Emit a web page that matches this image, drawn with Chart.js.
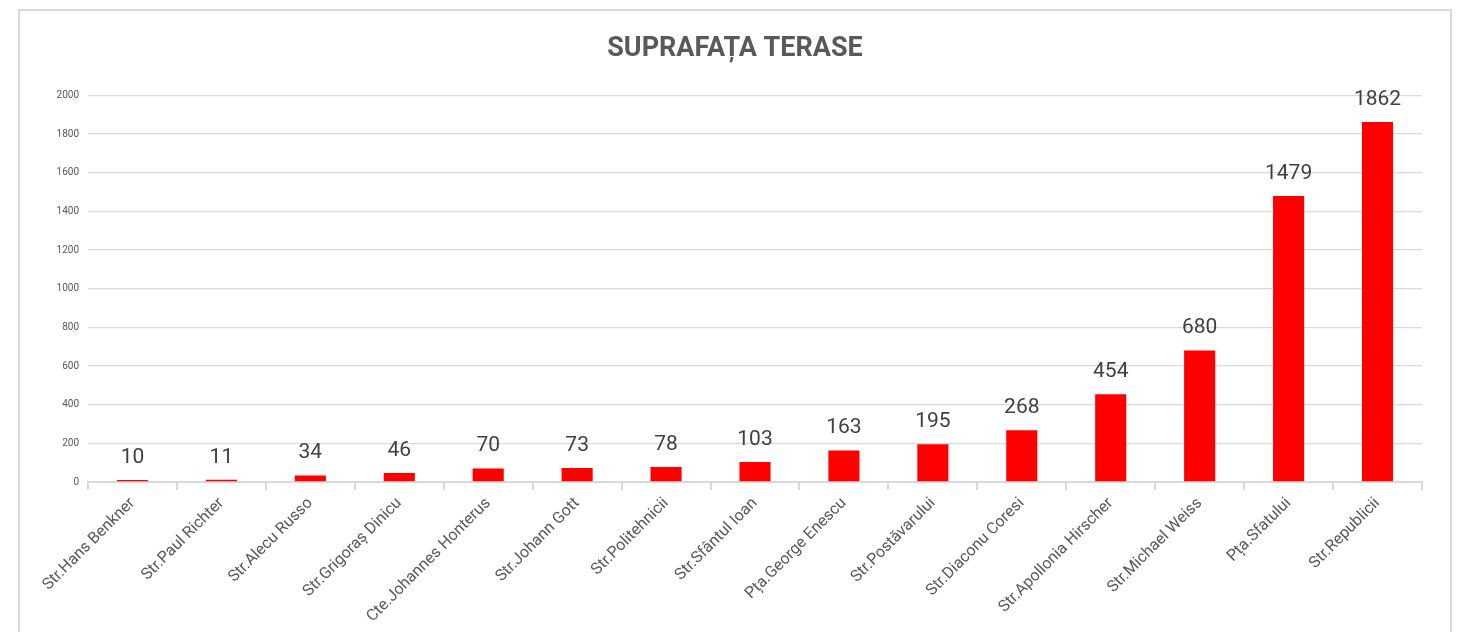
<!DOCTYPE html>
<html lang="ro">
  <head>
    <meta charset="UTF-8" />
    <title>Suprafața terase</title>
    <script src="https://cdn.jsdelivr.net/npm/chart.js"></script>
    <style>
      html, body {
        margin: 0;
        padding: 0;
        background: #ffffff;
        overflow: hidden;
      }
      .box {
        position: absolute;
        left: 18px;
        top: 9px;
        width: 1430px;
        height: 640px;
        border: 2px solid #d9d9d9;
        background: #ffffff;
      }
      .box canvas {
        display: block;
      }
    </style>
  </head>
  <body>
    <div class="box">
      <canvas id="myChart" width="1430" height="621"></canvas>
    </div>
    <script>
      const streets = [
        "Str.Hans Benkner",
        "Str.Paul Richter",
        "Str.Alecu Russo",
        "Str.Grigoraş Dinicu",
        "Cte.Johannes Honterus",
        "Str.Johann Gott",
        "Str.Politehnicii",
        "Str.Sfântul Ioan",
        "Pța.George Enescu",
        "Str.Postăvarului",
        "Str.Diaconu Coresi",
        "Str.Apollonia Hirscher",
        "Str.Michael Weiss",
        "Pța.Sfatului",
        "Str.Republicii",
      ];
      const surface = [10, 11, 34, 46, 70, 73, 78, 103, 163, 195, 268, 454, 680, 1479, 1862];
      const yTicks = [0, 200, 400, 600, 800, 1000, 1200, 1400, 1600, 1800, 2000];

      // value labels above each bar
      const barLabels = {
        id: "barLabels",
        afterDatasetsDraw(chart) {
          const ctx = chart.ctx;
          const meta = chart.getDatasetMeta(0);
          ctx.save();
          ctx.font = "21px Roboto";
          ctx.fillStyle = "#404040";
          ctx.textAlign = "center";
          ctx.textBaseline = "bottom";
          meta.data.forEach((bar, i) => {
            ctx.fillText(String(surface[i]), bar.x, bar.y - 12);
          });
          ctx.restore();
        },
      };

      const ctx = document.getElementById("myChart").getContext("2d");
      new Chart(ctx, {
        type: "bar",
        data: {
          labels: streets,
          datasets: [
            {
              data: surface,
              backgroundColor: "#ff0000",
              borderWidth: 0,
              barPercentage: 0.35,
              categoryPercentage: 1,
            },
          ],
        },
        options: {
          responsive: false,
          animation: false,
          layout: { padding: { left: 28, right: 28, top: 0, bottom: 0 } },
          plugins: {
            legend: { display: false },
            tooltip: { enabled: false },
            title: {
              display: true,
              text: "SUPRAFAȚA TERASE",
              color: "#595959",
              font: { family: "Roboto", size: 27, weight: "bold" },
              padding: { top: 22, bottom: 30 },
            },
          },
          scales: {
            y: {
              min: 0,
              max: 2000,
              afterFit(scale) {
                scale.width = 40;
              },
              afterBuildTicks(scale) {
                scale.ticks = yTicks.map((v) => ({ value: v }));
              },
              border: { display: false },
              grid: { color: "#d9d9d9", lineWidth: 1.3, drawTicks: false },
              ticks: {
                color: "#595959",
                padding: 9,
                font: { family: "Roboto", size: 10 },
                callback: (v) => String(v),
              },
            },
            x: {
              afterFit(scale) {
                scale.height = 150;
              },
              border: { display: true, color: "#d9d9d9", width: 2 },
              grid: {
                offset: true,
                drawOnChartArea: false,
                drawTicks: true,
                tickLength: 8,
                color: "#d9d9d9",
                lineWidth: 2,
              },
              ticks: {
                color: "#595959",
                minRotation: 45,
                maxRotation: 45,
                autoSkip: false,
                padding: 4,
                font: { family: "Roboto", size: 16 },
              },
            },
          },
        },
        plugins: [barLabels],
      });
    </script>
  </body>
</html>
